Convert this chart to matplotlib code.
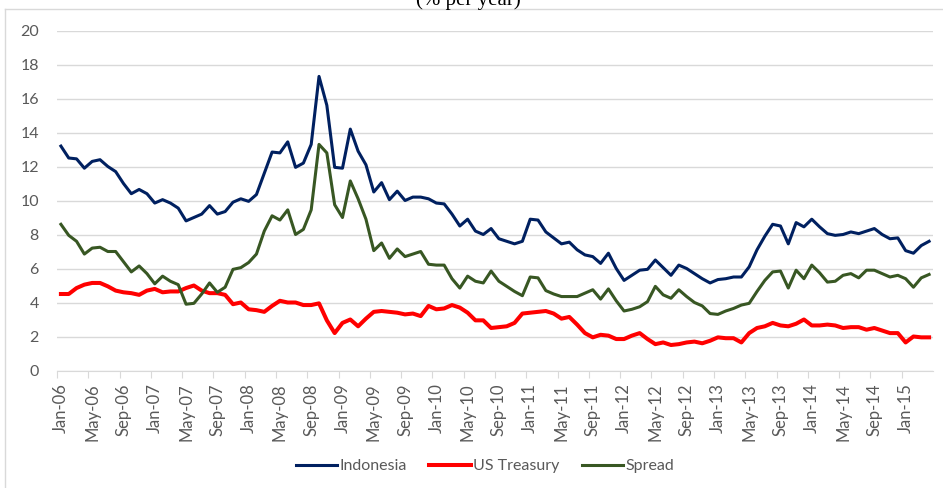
import matplotlib
matplotlib.use("Agg")
import matplotlib.pyplot as plt
from matplotlib.lines import Line2D

# monthly yields, Jan-06 .. Apr-15 (% per year)
indonesia = [
    13.2, 12.5, 12.45, 11.9, 12.3, 12.4, 12.0, 11.7, 11.0, 10.4, 10.65, 10.4,
    9.85, 10.05, 9.85, 9.55, 8.8, 9.0, 9.2, 9.7, 9.2, 9.35, 9.9, 10.1,
    9.95, 10.35, 11.6, 12.85, 12.8, 13.45, 11.95, 12.2, 13.3, 17.3, 15.6, 11.95,
    11.9, 14.2, 12.9, 12.1, 10.5, 11.05, 10.05, 10.55, 10.0, 10.2, 10.2, 10.1,
    9.85, 9.8, 9.2, 8.5, 8.9, 8.2, 8.0, 8.35, 7.75, 7.6, 7.45, 7.6,
    8.9, 8.85, 8.15, 7.8, 7.45, 7.55, 7.1, 6.8, 6.7, 6.3, 6.9, 6.0,
    5.3, 5.6, 5.9, 5.95, 6.5, 6.05, 5.6, 6.2, 6.0, 5.7, 5.4, 5.15,
    5.35, 5.4, 5.5, 5.5, 6.1, 7.1, 7.9, 8.6, 8.5, 7.45, 8.7, 8.45,
    8.9, 8.45, 8.05, 7.95, 8.0, 8.15, 8.05, 8.2, 8.35, 8.0, 7.75, 7.8,
    7.05, 6.9, 7.35, 7.6,
]
us_treasury = [
    4.5, 4.5, 4.85, 5.05, 5.15, 5.15, 4.95, 4.7, 4.6, 4.55, 4.45, 4.7,
    4.8, 4.6, 4.65, 4.65, 4.85, 5.0, 4.7, 4.55, 4.55, 4.45, 3.9, 4.0,
    3.6, 3.55, 3.45, 3.8, 4.1, 4.0, 4.0, 3.85, 3.85, 3.95, 2.95, 2.2,
    2.8, 3.0, 2.6, 3.05, 3.45, 3.5, 3.45, 3.4, 3.3, 3.35, 3.2, 3.8,
    3.6, 3.65, 3.85, 3.7, 3.4, 2.95, 2.95, 2.5, 2.55, 2.6, 2.8, 3.35,
    3.4, 3.45, 3.5, 3.35, 3.05, 3.15, 2.7, 2.2, 1.95, 2.1, 2.05, 1.85,
    1.85, 2.05, 2.2, 1.85, 1.55, 1.65, 1.5, 1.55, 1.65, 1.7, 1.6, 1.75,
    1.95, 1.9, 1.9, 1.65, 2.2, 2.5, 2.6, 2.8, 2.65, 2.6, 2.75, 3.0,
    2.65, 2.65, 2.7, 2.65, 2.5, 2.55, 2.55, 2.4, 2.5, 2.35, 2.2, 2.2,
    1.65, 2.0, 1.95, 1.95,
]
spread = [
    8.6, 7.95, 7.6, 6.85, 7.2, 7.25, 7.0, 7.0, 6.4, 5.8, 6.15, 5.7,
    5.1, 5.55, 5.25, 5.05, 3.9, 3.95, 4.5, 5.15, 4.6, 4.9, 5.95, 6.05,
    6.35, 6.85, 8.2, 9.1, 8.85, 9.45, 8.0, 8.3, 9.45, 13.3, 12.8, 9.75,
    9.0, 11.15, 10.1, 8.9, 7.05, 7.5, 6.6, 7.15, 6.7, 6.85, 7.0, 6.25,
    6.2, 6.2, 5.4, 4.85, 5.55, 5.25, 5.15, 5.85, 5.25, 4.95, 4.65, 4.4,
    5.5, 5.45, 4.7, 4.5, 4.35, 4.35, 4.35, 4.55, 4.75, 4.2, 4.8, 4.1,
    3.5, 3.6, 3.75, 4.05, 4.95, 4.45, 4.25, 4.75, 4.35, 4.0, 3.8, 3.35,
    3.3, 3.5, 3.65, 3.85, 3.95, 4.65, 5.3, 5.8, 5.85, 4.85, 5.9, 5.4,
    6.2, 5.75, 5.2, 5.25, 5.6, 5.7, 5.45, 5.9, 5.9, 5.7, 5.5, 5.6,
    5.4, 4.9, 5.45, 5.65,
]

months = ["Jan", "Feb", "Mar", "Apr", "May", "Jun",
          "Jul", "Aug", "Sep", "Oct", "Nov", "Dec"]
dates = [f"{months[i % 12]}-{6 + i // 12:02d}" for i in range(len(indonesia))]

plt.rcParams["font.family"] = ["Lato", "DejaVu Sans"]

fig = plt.figure(figsize=(9.43, 4.88), dpi=100)
W, H = 943, 488
ax = fig.add_axes([57 / W, 1 - 370.5 / H, (933 - 57) / W, 340 / H])

x = list(range(len(dates)))
ax.plot(x, indonesia, color="#002060", lw=2.2, label="Indonesia", zorder=3)
ax.plot(x, us_treasury, color="#FF0000", lw=2.9, label="US Treasury", zorder=3)
ax.plot(x, spread, color="#385723", lw=2.2, label="Spread", zorder=3)

ax.set_xlim(-0.5, len(dates) - 0.5)
ax.set_ylim(0, 20)
ax.set_yticks(range(0, 21, 2))
ax.grid(axis="y", color="#D9D9D9", lw=1)
ax.set_axisbelow(True)

# tick marks sit between categories, labels on the categories
ax.set_xticks([i - 0.5 for i in range(0, len(dates), 4)])
ax.set_xticklabels([])
ax.set_xticks(list(range(0, len(dates), 4)), minor=True)
ax.set_xticklabels(dates[::4], minor=True, rotation=90)
ax.tick_params(axis="x", which="major", length=5, color="#D9D9D9")
ax.tick_params(axis="x", which="minor", length=0, pad=9,
               labelsize=12, labelcolor="#595959")
ax.tick_params(axis="y", length=0, pad=13, labelsize=11.5, labelcolor="#595959")

for s in ["top", "right", "left"]:
    ax.spines[s].set_visible(False)
ax.spines["bottom"].set_color("#D9D9D9")

handles = [Line2D([], [], color="#002060", lw=2.2),
           Line2D([], [], color="#FF0000", lw=2.9),
           Line2D([], [], color="#385723", lw=2.2)]
fig.legend(handles, ["Indonesia", "US Treasury", "Spread"], loc="center",
           bbox_to_anchor=(485 / W, 1 - 466 / H), ncol=3, frameon=False,
           fontsize=11.5, handlelength=2.6, handletextpad=0.15,
           columnspacing=1.4, labelcolor="#595959")

# chart frame and the cut-off title above it
fig.add_artist(Line2D([5 / W, 5 / W], [0, 1 - 9 / H], color="#D9D9D9", lw=1))
fig.add_artist(Line2D([5 / W, 1], [1 - 9 / H, 1 - 9 / H], color="#D9D9D9", lw=1))
fig.text(0.497, 1 - 5 / H, "(% per year)", ha="center", va="baseline",
         fontsize=15, family="Liberation Serif")

fig.savefig("out.png", dpi=100)
